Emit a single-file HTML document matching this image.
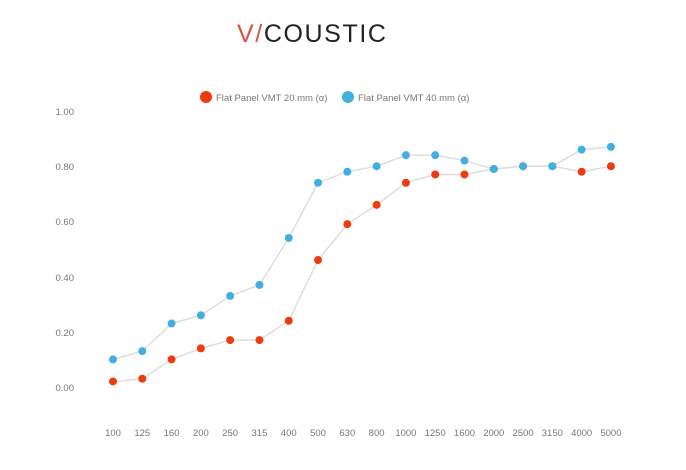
<!DOCTYPE html>
<html><head><meta charset="utf-8"><style>
html,body{margin:0;padding:0;background:#fff;}
svg{display:block;font-family:"Liberation Sans",sans-serif;}
</style></head><body>
<svg width="686" height="470" xmlns="http://www.w3.org/2000/svg">
<text x="237" y="42" font-size="25" letter-spacing="1.6" fill="#222"><tspan fill="#d9533f">V/</tspan>COUSTIC</text>
<circle cx="206" cy="97" r="6" fill="#f03a0e"/>
<text x="216" y="101" font-size="9.5" fill="#777">Flat Panel VMT 20 mm (α)</text>
<circle cx="348" cy="97" r="6" fill="#41b0e0"/>
<text x="358" y="101" font-size="9.5" fill="#777">Flat Panel VMT 40 mm (α)</text>
<g font-size="9.5" fill="#777" text-anchor="end">
<text x="74" y="115">1.00</text><text x="74" y="170">0.80</text><text x="74" y="225">0.60</text><text x="74" y="281">0.40</text><text x="74" y="336">0.20</text><text x="74" y="391">0.00</text>
</g>
<g id="x" font-size="9.5" fill="#777" text-anchor="middle"></g>
<g id="lines"></g>
</svg>
<script>
var labels=[100,125,160,200,250,315,400,500,630,800,1000,1250,1600,2000,2500,3150,4000,5000];
var r=[.02,.03,.10,.14,.17,.17,.24,.46,.59,.66,.74,.77,.77,.79,.80,.80,.78,.80];
var b=[.10,.13,.23,.26,.33,.37,.54,.74,.78,.80,.84,.84,.82,.79,.80,.80,.86,.87];
var ns="http://www.w3.org/2000/svg";
function X(i){return 113+i*29.29;}function Y(v){return 387-v*276;}
var gx=document.getElementById('x');
labels.forEach(function(l,i){var t=document.createElementNS(ns,'text');t.setAttribute('x',X(i));t.setAttribute('y',436);t.textContent=l;gx.appendChild(t);});
var g=document.getElementById('lines');
[[r,'#f03a0e'],[b,'#41b0e0']].forEach(function(s){
var p=s[0].map(function(v,i){return X(i)+','+Y(v);}).join(' ');
var pl=document.createElementNS(ns,'polyline');pl.setAttribute('points',p);pl.setAttribute('fill','none');pl.setAttribute('stroke','#ddd');pl.setAttribute('stroke-width','1.5');g.appendChild(pl);});
[[r,'#f03a0e'],[b,'#41b0e0']].forEach(function(s){
s[0].forEach(function(v,i){var c=document.createElementNS(ns,'circle');c.setAttribute('cx',X(i));c.setAttribute('cy',Y(v));c.setAttribute('r',4);c.setAttribute('fill',s[1]);g.appendChild(c);});});
</script>
</body></html>
